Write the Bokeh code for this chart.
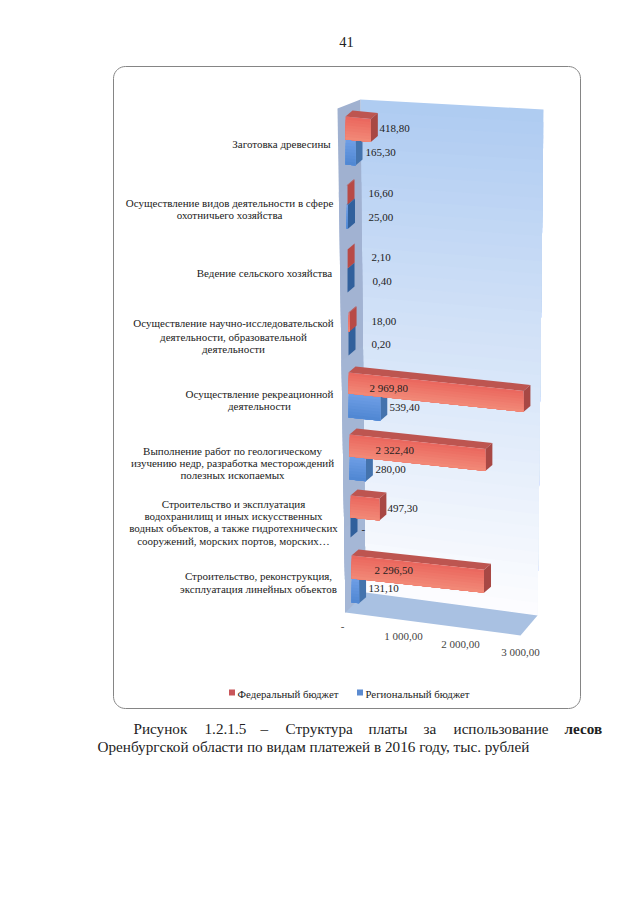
from bokeh.plotting import figure
from bokeh.core.properties import value
from bokeh.embed import file_html
from bokeh.resources import INLINE
import numpy as np

categories = [
    "Заготовка древесины",
    "Осуществление видов деятельности в сфере\nохотничьего хозяйства",
    "Ведение сельского хозяйства",
    "Осуществление научно-исследовательской\nдеятельности, образовательной\nдеятельности",
    "Осуществление рекреационной\nдеятельности",
    "Выполнение работ по геологическому\nизучению недр, разработка месторождений\nполезных ископаемых",
    "Строительство и эксплуатация\nводохранилищ и иных искусственных\nводных объектов, а также гидротехнических\nсооружений, морских портов, морских…",
    "Строительство, реконструкция,\nэксплуатация линейных объектов",
]
federal = [418.80, 16.60, 2.10, 18.00, 2969.80, 2322.40, 497.30, 2296.50]
regional = [165.30, 25.00, 0.40, 0.20, 539.40, 280.00, 0.0, 131.10]
axis_ticks = [0, 1000, 2000, 3000]
series_names = ["Федеральный бюджет", "Региональный бюджет"]

# ---- layout (page pixels), separate from the data ----
FONT = value("Liberation Serif")
bar_left = [345, 346, 347, 348, 348, 349, 350, 351]
red_top = [116, 185, 249, 312, 372, 434, 495, 555]
red_h = [23, 19, 19, 19, 21, 22, 22, 23]
blue_h = [25, 24, 24, 24, 24, 23, 20, 24]
label_center = [281, 229, 264, 233, 259, 232, 233, 258]
label_y = [[143], [202, 214], [272], [322, 336, 348], [393, 405], [450, 462, 474],
           [503, 515, 527, 540], [575, 588]]
fed_label_x = [379, 368, 371, 371, 369, 375, 387, 374]
fed_label_y = [128, 193, 257, 321, 387, 449, 508, 569]
reg_label_x = [365, 368, 372, 371, 389, 375, 361, 368]
reg_label_y = [152, 217, 281, 344, 407, 469, 529, 588]
tick_x = [342, 403, 460, 520]
tick_y = [626, 635, 643, 651]
DEPTH = (7, -6)
SLOPE = 0.0062


def sx(i):
    return 0.0605 - i * 0.0004


def fmt(v):
    if v == 0:
        return "-"
    return f"{v:,.2f}".replace(",", " ").replace(".", ",")


def mix(a, b, t):
    ca = [int(a[k:k + 2], 16) for k in (1, 3, 5)]
    cb = [int(b[k:k + 2], 16) for k in (1, 3, 5)]
    return "#%02x%02x%02x" % tuple(round(x + (y - x) * t) for x, y in zip(ca, cb))


p = figure(width=624, height=889, x_range=(0, 624), y_range=(889, 0),
           output_backend="svg", toolbar_location=None, min_border=0,
           x_axis_type=None, y_axis_type=None, background_fill_color="#ffffff",
           border_fill_color="#ffffff", outline_line_color=None)
p.grid.visible = False

xs, ys, cs = [], [], []


def poly(x, y, c):
    xs.append(list(x))
    ys.append(list(y))
    cs.append(c)


def grad_quad(tl, tr, br, bl, c1, c2, n=8):
    tl, tr, br, bl = map(np.array, (tl, tr, br, bl))
    for k in range(n):
        a = k / n
        q = [tl + (bl - tl) * a, tr + (br - tr) * a, br, bl]
        poly([v[0] for v in q], [v[1] for v in q], mix(c1, c2, (k + 0.5) / n))


# walls
grad_quad((360, 99), (543, 109), (537, 615), (365, 592), "#aecbf1", "#fdfdff", 40)
grad_quad((337, 108), (360, 99), (365, 592), (345, 612), "#9fb0d0", "#a6b8d6", 6)
poly([345, 365, 537, 520], [612, 592, 615, 635], "#a9c1e2")


def bar(i, val, top, h, front, front2, topc, side):
    x0 = bar_left[i]
    dx = val * sx(i)
    dy = val * SLOPE
    tl = (x0, top)
    tr = (x0 + dx, top + dy)
    br = (x0 + dx, top + dy + h)
    bl = (x0, top + h)
    D = DEPTH
    poly([tl[0], tr[0], tr[0] + D[0], tl[0] + D[0]],
         [tl[1], tr[1], tr[1] + D[1], tl[1] + D[1]], topc)
    poly([tr[0], tr[0] + D[0], br[0] + D[0], br[0]],
         [tr[1], tr[1] + D[1], br[1] + D[1], br[1]], side)
    if dx >= 1:
        grad_quad(tl, tr, br, bl, front, front2, 8)


for i in range(len(categories)):
    small_red = federal[i] < 100
    small_blue = regional[i] < 100
    bar(i, regional[i], red_top[i] + red_h[i], blue_h[i], "#6f9fe6", "#4f86d2",
        "#3f6899", "#31609c" if small_blue else "#4473ad")
    bar(i, federal[i], red_top[i], red_h[i], "#ea665d", "#f28a78",
        "#bd5550", "#b84a46" if small_red else "#a84844")

p.patches(xs, ys, fill_color=cs, line_color=None)

# rounded frame
L, R, T, B, r = 113, 580, 66, 708, 12
ang = np.linspace(0, np.pi / 2, 10)
fx = np.concatenate([L + r - r * np.cos(ang), R - r + r * np.sin(ang),
                     R - r + r * np.cos(ang), L + r - r * np.sin(ang), [L]])
fy = np.concatenate([T + r - r * np.sin(ang), T + r - r * np.cos(ang),
                     B - r + r * np.sin(ang), B - r + r * np.cos(ang), [T + r]])
p.line(fx, fy, line_color="#858585", line_width=1)


def txt(x, y, t, size="11px", align="left", color="#222222", style="normal"):
    p.text(x=x, y=y, text=t, text_font=FONT, text_font_size=size,
           text_align=align, text_baseline="middle", text_color=color,
           text_font_style=style)


# category labels
cx, cy, ct = [], [], []
for name, c, yy in zip(categories, label_center, label_y):
    for line, y in zip(name.split("\n"), yy):
        cx.append(c)
        cy.append(y)
        ct.append(line)
txt(cx, cy, ct, size="11px", align="center")

# data labels
txt(fed_label_x, fed_label_y, [fmt(v) for v in federal])
txt(reg_label_x, reg_label_y, [fmt(v) for v in regional])

# value axis labels
txt(tick_x, tick_y, [fmt(v) for v in axis_ticks], align="center", color="#444444")

# legend
p.scatter([231.5, 359.5], [692, 692], size=6, marker="square",
          fill_color=["#c9565a", "#5b8bd0"], line_color=None)
txt([237, 365], [693, 693], series_names, size="10.8px")

# page text
txt([346], [41], ["41"], size="14.5px", align="center")
w = ["Рисунок", "1.2.1.5", "–", "Структура", "платы", "за", "использование"]
wx = [133, 204, 260, 285, 368, 423, 453]
txt(wx, [728] * len(w), w, size="15.2px")
txt([564], [728], ["лесов"], size="15.2px", style="bold")
txt([97], [746], ["Оренбургской области по видам платежей в 2016 году, тыс. рублей"], size="15.2px")

open("out.html", "w").write(file_html(p, INLINE))
